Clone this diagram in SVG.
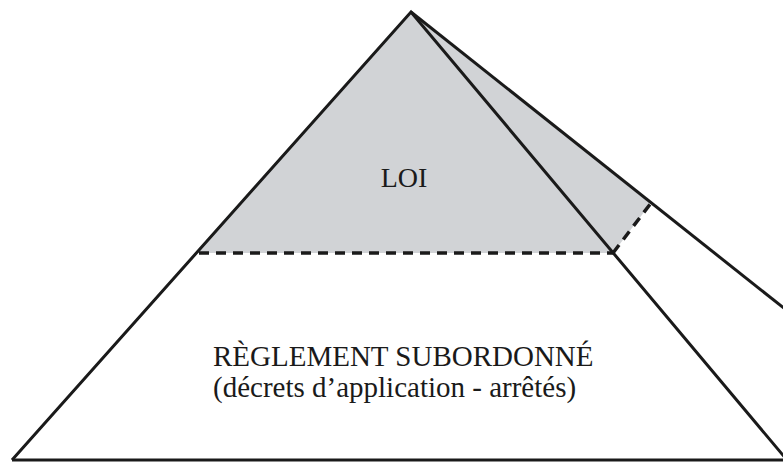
<svg xmlns="http://www.w3.org/2000/svg" width="783" height="462" viewBox="0 0 783 462">
<style>
.edge{stroke:#1a1a1a;stroke-width:3;fill:none;stroke-linejoin:miter;stroke-linecap:butt}
.dash{stroke:#1a1a1a;stroke-width:3.5;fill:none;stroke-dasharray:10 7}
.lbl{font-family:"Liberation Serif","Times New Roman",serif;fill:#1a1a1a}
</style>
<rect width="783" height="462" fill="#ffffff"/>
<g id="loi">
<polygon points="411,12 197,253 613,253 651,203" fill="#d1d3d6"/>
<text class="lbl" x="404" y="187" font-size="28" text-anchor="middle">LOI</text>
</g>
<g id="reglement">
<text class="lbl" x="213" y="366" font-size="29">RÈGLEMENT SUBORDONNÉ</text>
<text class="lbl" x="213" y="397" font-size="29">(décrets d’application - arrêtés)</text>
</g>
<g id="connectors">
<polyline class="edge" points="12,460 411,12 787,460"/>
<line class="edge" x1="411" y1="12" x2="790" y2="313"/>
<line class="edge" x1="12" y1="460" x2="783" y2="460"/>
<line class="dash" x1="199" y1="253" x2="613" y2="253"/>
<line class="dash" x1="613" y1="253" x2="651" y2="203"/>
</g>
</svg>
